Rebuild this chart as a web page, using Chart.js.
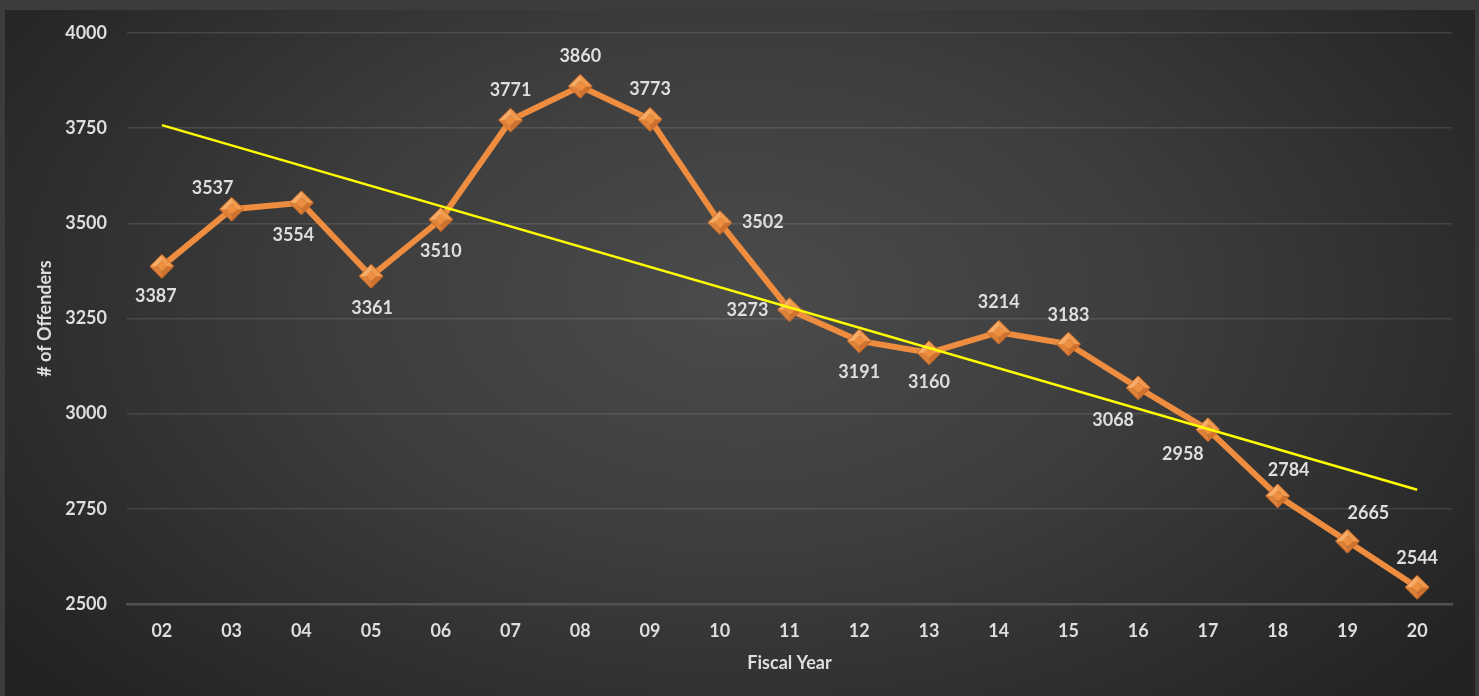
<!DOCTYPE html>
<html>
<head>
<meta charset="utf-8">
<script src="https://cdn.jsdelivr.net/npm/chart.js@4/dist/chart.umd.min.js"></script>
<style>
  html, body { margin: 0; padding: 0; background: #3c3c3e; width: 1479px; height: 696px; overflow: hidden; }
  #wrap { position: absolute; left: 5px; top: 10px; width: 1470px; height: 686px; }
</style>
</head>
<body>
<div id="wrap"><canvas id="c" width="1470" height="686"></canvas></div>
<script>
// ---- data ----
const categories = ['02','03','04','05','06','07','08','09','10','11','12','13','14','15','16','17','18','19','20'];
const offenders = [3387,3537,3554,3361,3510,3771,3860,3773,3502,3273,3191,3160,3214,3183,3068,2958,2784,2665,2544];
const trendStart = 3758;
const trendEnd = 2800;
const yTicks = [2500, 2750, 3000, 3250, 3500, 3750, 4000];

// ---- label placement (style only) ----
const labelOffsets = [
  [-6,30],[-19,-21],[-8,32],[1,32],[0,32],[0,-30],[0,-30],[0,-30],[43,0],[-42,0],
  [0,31],[0,29],[0,-30],[0,-29],[-25,32],[-25,25],[11,-26],[21,-28],[0,-29]
];

const FONT = 'Lato, "Open Sans", sans-serif';
const TXT = '#dedede';

// 3D diamond marker
function makeDiamond(r) {
  const s = 2 * r + 4;
  const cv = document.createElement('canvas');
  cv.width = s; cv.height = s;
  const g = cv.getContext('2d');
  const c = s / 2;
  const T = [c, c - r], R = [c + r, c], B = [c, c + r], L = [c - r, c];
  const ir = r * 0.45;
  const iT = [c, c - ir], iR = [c + ir, c], iB = [c, c + ir], iL = [c - ir, c];
  function quad(a, b, bb, aa, col) {
    g.beginPath(); g.moveTo(a[0], a[1]); g.lineTo(b[0], b[1]); g.lineTo(bb[0], bb[1]); g.lineTo(aa[0], aa[1]); g.closePath();
    g.fillStyle = col; g.fill();
  }
  quad(L, T, iT, iL, '#f7ad68');
  quad(T, R, iR, iT, '#f19b4f');
  quad(R, B, iB, iR, '#cf7230');
  quad(B, L, iL, iB, '#de8139');
  g.beginPath(); g.moveTo(iT[0], iT[1]); g.lineTo(iR[0], iR[1]); g.lineTo(iB[0], iB[1]); g.lineTo(iL[0], iL[1]); g.closePath();
  g.fillStyle = '#ee8f40'; g.fill();
  g.beginPath(); g.moveTo(T[0], T[1]); g.lineTo(R[0], R[1]); g.lineTo(B[0], B[1]); g.lineTo(L[0], L[1]); g.closePath();
  g.strokeStyle = '#c86a28'; g.lineWidth = 1; g.stroke();
  return cv;
}
const diamond = makeDiamond(12);

const bgPlugin = {
  id: 'bg',
  beforeDraw(chart) {
    const ctx = chart.ctx, w = chart.width, h = chart.height;
    ctx.save();
    ctx.fillStyle = '#242424';
    ctx.fillRect(0, 0, w, h);
    ctx.translate(w * 0.5, h * 0.42);
    ctx.scale(1, 0.62);
    const grd = ctx.createRadialGradient(0, 0, 0, 0, 0, w * 0.62);
    grd.addColorStop(0, '#4b4b4b');
    grd.addColorStop(0.45, '#3d3d3d');
    grd.addColorStop(1, '#232323');
    ctx.fillStyle = grd;
    ctx.fillRect(-w, -h * 2, w * 2, h * 4);
    ctx.restore();
  }
};

const labelPlugin = {
  id: 'dlabels',
  afterDatasetsDraw(chart) {
    const ctx = chart.ctx;
    const meta = chart.getDatasetMeta(0);
    ctx.save();
    ctx.font = 'bold 18px ' + FONT;
    ctx.fillStyle = TXT;
    ctx.textAlign = 'center';
    ctx.textBaseline = 'middle';
    meta.data.forEach((pt, i) => {
      const o = labelOffsets[i];
      ctx.fillText(String(offenders[i]), pt.x + o[0], pt.y + o[1]);
    });
    ctx.restore();
  }
};

new Chart(document.getElementById('c'), {
  type: 'line',
  data: {
    labels: categories,
    datasets: [
      {
        label: '# of Offenders',
        data: offenders,
        borderColor: '#ee8d3f',
        borderWidth: 6,
        pointStyle: diamond,
        pointRadius: 12,
        tension: 0,
        order: 1
      },
      {
        label: 'Trend',
        data: [{x: categories[0], y: trendStart}, {x: categories[categories.length - 1], y: trendEnd}],
        borderColor: '#ffff00',
        borderWidth: 2.5,
        pointRadius: 0,
        order: 0
      }
    ]
  },
  options: {
    responsive: false,
    animation: false,
    events: [],
    layout: { padding: { left: 0, right: 23, top: 23, bottom: 0 } },
    plugins: { legend: { display: false }, tooltip: { enabled: false } },
    scales: {
      x: {
        type: 'category',
        offset: true,
        grid: { display: false, drawTicks: false },
        border: { display: true, color: '#525252', width: 2.5 },
        ticks: { color: TXT, font: { family: FONT, size: 18, weight: 'bold' }, padding: 16, maxRotation: 0 },
        title: { display: true, text: 'Fiscal Year', color: TXT, font: { family: FONT, size: 18, weight: 'bold' }, padding: { bottom: 22, top: 0 } },
        afterFit(scale) { scale.height = 92; scale.paddingLeft = 0; scale.paddingRight = 0; }
      },
      y: {
        min: 2500, max: 4000,
        afterBuildTicks(scale) { scale.ticks = yTicks.map(v => ({ value: v })); },
        grid: { color: 'rgba(255,255,255,0.11)', lineWidth: 1.5, drawTicks: false },
        border: { display: false },
        ticks: { color: TXT, font: { family: FONT, size: 18, weight: 'bold' }, padding: 20, callback: (v) => String(v) },
        title: { display: true, text: '# of Offenders', color: TXT, font: { family: FONT, size: 18, weight: 'bold' }, padding: { top: 29, bottom: 0 } },
        afterFit(scale) { scale.width = 122; scale.paddingTop = 0; scale.paddingBottom = 0; }
      }
    }
  },
  plugins: [bgPlugin, labelPlugin]
});
</script>
</body>
</html>
